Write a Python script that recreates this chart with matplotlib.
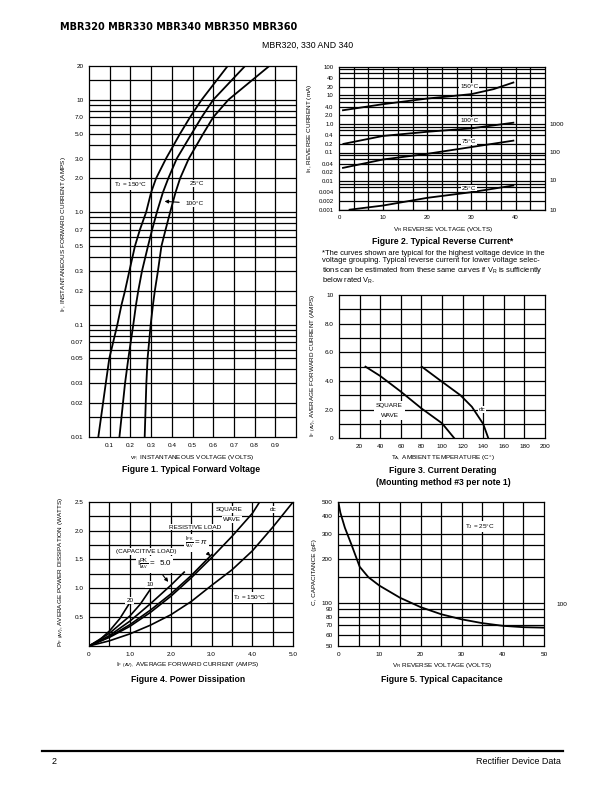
import matplotlib
matplotlib.use("Agg")
import matplotlib.pyplot as plt
from matplotlib.ticker import FixedLocator, FixedFormatter, NullFormatter

plt.rcParams['font.family'] = ['Liberation Sans', 'DejaVu Sans']
plt.rcParams['mathtext.fontset'] = 'custom'
plt.rcParams['mathtext.rm'] = 'Liberation Sans'
plt.rcParams['mathtext.it'] = 'Liberation Sans:italic'
plt.rcParams['mathtext.bf'] = 'Liberation Sans:bold'

W, H = 612.0, 792.0

# ---- Figure 1: typical forward voltage
if_amps = [0.01, 0.03, 0.05, 0.1, 0.15, 0.2, 0.3, 0.5, 0.7, 1.0, 1.5, 2.0, 3.0, 5.0, 7.0, 10, 20]
vf_150c = [0.045, 0.081, 0.098, 0.137, 0.157, 0.174, 0.195, 0.222, 0.246, 0.276, 0.300, 0.324, 0.372, 0.440, 0.488, 0.544, 0.670]
vf_100c = [0.147, 0.174, 0.190, 0.214, 0.227, 0.238, 0.256, 0.285, 0.305, 0.328, 0.357, 0.383, 0.424, 0.496, 0.544, 0.600, 0.754]
vf_25c = [0.269, 0.277, 0.283, 0.298, 0.309, 0.318, 0.333, 0.350, 0.370, 0.392, 0.418, 0.440, 0.482, 0.552, 0.600, 0.673, 0.871]
f1_grid_x = [0.1, 0.2, 0.3, 0.4, 0.5, 0.6, 0.7, 0.8, 0.9]
f1_grid_y = [0.015, 0.02, 0.03, 0.04, 0.05, 0.06, 0.07, 0.08, 0.09, 0.1, 0.15, 0.2, 0.3, 0.4, 0.5,
             0.6, 0.7, 0.8, 0.9, 1.0, 1.5, 2, 3, 4, 5, 6, 7, 8, 9, 10, 15]
f1_xticks = [0.1, 0.2, 0.3, 0.4, 0.5, 0.6, 0.7, 0.8, 0.9]
f1_xlabels = ['0.1', '0.2', '0.3', '0.4', '0.5', '0.6', '0.7', '0.8', '0.9']
f1_yticks = [0.01, 0.02, 0.03, 0.05, 0.07, 0.1, 0.2, 0.3, 0.5, 0.7, 1, 2, 3, 5, 7, 10, 20]
f1_ylabels = ['0.01', '0.02', '0.03', '0.05', '0.07', '0.1', '0.2', '0.3', '0.5', '0.7',
              '1.0', '2.0', '3.0', '5.0', '7.0', '10', '20']

# ---- Figure 2: typical reverse current
vr_150c = [0.9, 10, 20, 30, 35, 39.5]
ir_150c = [3.0, 4.9, 7.7, 11, 16.4, 28]
vr_100c = [1.0, 10, 20, 30, 39.5]
ir_100c = [0.2, 0.38, 0.53, 0.70, 1.1]
vr_75c = [0.9, 10, 20, 30, 39.5]
ir_75c = [0.029, 0.057, 0.09, 0.155, 0.26]
vr_25c = [2.4, 10, 20, 30, 39.5]
ir_25c = [0.001, 0.0014, 0.0026, 0.0041, 0.007]
f2_grid_x = [10 / 3 * k for k in range(1, 14)]
f2_grid_y = [d * m for d in [0.001, 0.01, 0.1, 1, 10] for m in [1, 2, 4, 6, 8]]
f2_xticks = [0, 10, 20, 30, 40]
f2_xlabels = ['0', '10', '20', '30', '40']
f2_yticks = [0.001, 0.002, 0.004, 0.01, 0.02, 0.04, 0.1, 0.2, 0.4, 1, 2, 4, 10, 20, 40, 100]
f2_ylabels = ['0.001', '0.002', '0.004', '0.01', '0.02', '0.04', '0.1', '0.2', '0.4',
              '1.0', '2.0', '4.0', '10', '20', '40', '100']

# ---- Figure 3: current derating
ta_square = [25.7, 40, 60, 80, 100, 112]
if_square = [5.0, 4.35, 3.26, 2.09, 1.05, 0]
ta_dc = [80.3, 99, 118, 129, 140, 145.0]
if_dc = [5.0, 4.0, 3.0, 2.2, 1.0, 0]
f3_grid_x = [20, 40, 60, 80, 100, 120, 140, 160, 180]
f3_grid_y = [1, 2, 3, 4, 5, 6, 7, 8, 9]
f3_xticks = [20, 40, 60, 80, 100, 120, 140, 160, 180, 200]
f3_xlabels = ['20', '40', '60', '80', '100', '120', '140', '160', '180', '200']
f3_yticks = [0, 2, 4, 6, 8, 10]
f3_ylabels = ['0', '2.0', '4.0', '6.0', '8.0', '10']

# ---- Figure 4: power dissipation
iav_20 = [0, 0.25, 0.5, 0.75, 0.99]
pf_20 = [0, 0.1, 0.26, 0.47, 0.74]
iav_10 = [0, 0.5, 1.0, 1.25, 1.49]
pf_10 = [0, 0.22, 0.52, 0.72, 0.97]
iav_5 = [0, 0.5, 1.0, 1.5, 2.0, 2.33]
pf_5 = [0, 0.18, 0.43, 0.73, 1.05, 1.28]
iav_pi = [0, 0.5, 1.0, 1.5, 2.0, 2.5, 3.0]
pf_pi = [0, 0.16, 0.37, 0.62, 0.90, 1.22, 1.58]
iav_sq = [0, 0.5, 1.0, 1.5, 2.0, 2.5, 3.0, 3.5, 4.0, 4.18]
pf_sq = [0, 0.15, 0.34, 0.58, 0.86, 1.18, 1.53, 1.90, 2.30, 2.50]
iav_dc = [0, 0.5, 1.0, 1.5, 2.0, 2.5, 3.0, 3.5, 4.0, 4.5, 5.0]
pf_dc = [0, 0.09, 0.21, 0.36, 0.54, 0.77, 1.05, 1.32, 1.65, 2.06, 2.50]
f4_grid_x = [0.5, 1.0, 1.5, 2.0, 2.5, 3.0, 3.5, 4.0, 4.5]
f4_grid_y = [0.25, 0.5, 0.75, 1.0, 1.25, 1.5, 1.75, 2.0, 2.25]
f4_xticks = [0, 1, 2, 3, 4, 5]
f4_xlabels = ['0', '1.0', '2.0', '3.0', '4.0', '5.0']
f4_yticks = [0.5, 1.0, 1.5, 2.0, 2.5]
f4_ylabels = ['0.5', '1.0', '1.5', '2.0', '2.5']

# ---- Figure 5: typical capacitance
vr_cap = [0, 0.5, 1.6, 3.2, 5.2, 7.3, 10, 15, 20, 25, 30, 35, 40, 45, 50]
c_pf = [500, 420, 330, 252, 177, 150, 131, 108, 93, 83, 76.5, 72, 69, 67.5, 67]
f5_grid_x = [5, 10, 15, 20, 25, 30, 35, 40, 45]
f5_grid_y = [60, 70, 80, 90, 100, 150, 200, 250, 300, 400]
f5_xticks = [0, 10, 20, 30, 40, 50]
f5_xlabels = ['0', '10', '20', '30', '40', '50']
f5_yticks = [50, 60, 70, 80, 90, 100, 200, 300, 400, 500]
f5_ylabels = ['50', '60', '70', '80', '90', '100', '200', '300', '400', '500']

fig = plt.figure(figsize=(6.12, 7.92), dpi=100)


def px_axes(l, t, r, b):
    return fig.add_axes([l / W, 1 - b / H, (r - l) / W, (b - t) / H])


def ftext(x, y, s, **kw):
    kw.setdefault('fontsize', 4.6)
    kw.setdefault('ha', 'center')
    kw.setdefault('va', 'center')
    fig.text(x / W, 1 - y / H, s, **kw)


def style(ax, gx, gy, xt, xl, yt, yl):
    ax.xaxis.set_major_locator(FixedLocator(xt))
    ax.xaxis.set_major_formatter(FixedFormatter(xl))
    ax.yaxis.set_major_locator(FixedLocator(yt))
    ax.yaxis.set_major_formatter(FixedFormatter(yl))
    ax.xaxis.set_minor_locator(FixedLocator([]))
    ax.yaxis.set_minor_locator(FixedLocator([]))
    ax.yaxis.set_minor_formatter(NullFormatter())
    ax.tick_params(which='both', length=0, labelsize=4.6, pad=4)
    for v in gx:
        ax.axvline(v, color='k', lw=0.9, zorder=1)
    for v in gy:
        ax.axhline(v, color='k', lw=0.9, zorder=1)
    for s in ax.spines.values():
        s.set_linewidth(0.9)


box = dict(facecolor='white', edgecolor='none', pad=0.6)

# Figure 1
ax1 = px_axes(89, 66, 296, 437)
ax1.set_yscale('log')
ax1.set_xlim(0, 1.0)
ax1.set_ylim(0.01, 20)
style(ax1, f1_grid_x, f1_grid_y, f1_xticks, f1_xlabels, f1_yticks, f1_ylabels)
for v in [vf_150c, vf_100c, vf_25c]:
    ax1.plot(v, if_amps, color='k', lw=1.3, zorder=3)
ax1.text(0.20, 1.75, r'T$_\mathrm{J}$ = 150°C', fontsize=4.6, ha='center', va='center', bbox=box, zorder=4)
ax1.text(0.52, 1.8, '25°C', fontsize=4.6, ha='center', va='center', bbox=box, zorder=4)
ax1.annotate('100°C', xy=(0.365, 1.25), xytext=(0.51, 1.2), fontsize=4.6, ha='center', va='center',
             bbox=box, zorder=4,
             arrowprops=dict(arrowstyle='-|>', color='k', lw=0.8, mutation_scale=5, shrinkA=4, shrinkB=0))
ftext(192, 458, r'v$_\mathrm{F,}$ INSTANTANEOUS VOLTAGE (VOLTS)')
ftext(63, 234, r'I$_\mathrm{F}$, INSTANTANEOUS FORWARD CURRENT (AMPS)', rotation=90)
ftext(191, 470, 'Figure 1. Typical Forward Voltage', fontsize=6.2, weight='bold')

# Figure 2
ax2 = px_axes(339, 66.7, 545, 209.7)
ax2.set_yscale('log')
ax2.set_xlim(0, 140 / 3)
ax2.set_ylim(0.001, 100)
style(ax2, f2_grid_x, f2_grid_y, f2_xticks, f2_xlabels, f2_yticks, f2_ylabels)
ax2.tick_params(labelsize=4.3)
for v, i in [(vr_150c, ir_150c), (vr_100c, ir_100c), (vr_75c, ir_75c), (vr_25c, ir_25c)]:
    ax2.plot(v, i, color='k', lw=1.3, zorder=3)
for lab, yv in [('150°C', 20), ('100°C', 1.35), ('75°C', 0.24), ('25°C', 0.0057)]:
    ax2.text(29.5, yv, lab, fontsize=4.6, ha='center', va='center', bbox=box, zorder=4)
for lab, yy in [('1000', 124), ('100', 152), ('10', 181), ('10', 210)]:
    ftext(549, yy, lab, ha='left')
ftext(309, 128, r'I$_\mathrm{R}$, REVERSE CURRENT (mA)', rotation=90)
ftext(443, 230, r'V$_\mathrm{R}$ REVERSE VOLTAGE (VOLTS)')
ftext(443, 241, 'Figure 2. Typical Reverse Current*', fontsize=6.2, weight='bold')
note = ('*The curves shown are typical for the highest voltage device in the\n'
        'voltage grouping. Typical reverse current for lower voltage selec-\n'
        'tions can be estimated from these same curves if V$_\\mathrm{R}$ is sufficiently\n'
        'below rated V$_\\mathrm{R}$.')
ftext(322, 250, note, ha='left', va='top', fontsize=5.4, linespacing=1.05)

# Figure 3
ax3 = px_axes(339, 295, 545, 438.3)
ax3.set_xlim(0, 200)
ax3.set_ylim(0, 10)
style(ax3, f3_grid_x, f3_grid_y, f3_xticks, f3_xlabels, f3_yticks, f3_ylabels)
ax3.plot(ta_square, if_square, color='k', lw=1.3, zorder=3)
ax3.plot(ta_dc, if_dc, color='k', lw=1.3, zorder=3)
ax3.text(49, 1.95, 'SQUARE\n\nWAVE', fontsize=4.6, ha='center', va='center', linespacing=1.0,
         bbox=dict(facecolor='white', edgecolor='none', pad=1.2), zorder=4)
ax3.text(139, 2.0, 'dc', fontsize=4.6, ha='center', va='center', bbox=box, zorder=4)
ftext(314, 365, r'I$_\mathrm{F}$ $_\mathrm{(AV)}$, AVERAGE FORWARD CURRENT (AMPS)', rotation=90)
ftext(443, 458, r'T$_\mathrm{A,}$ AMBIENT TEMPERATURE (C°)')
ftext(443, 470.5, 'Figure 3. Current Derating', fontsize=6.2, weight='bold')
ftext(443, 482.5, '(Mounting method #3 per note 1)', fontsize=6.2, weight='bold')

# Figure 4
ax4 = px_axes(89, 501.7, 293.3, 646)
ax4.set_xlim(0, 5)
ax4.set_ylim(0, 2.5)
style(ax4, f4_grid_x, f4_grid_y, f4_xticks, f4_xlabels, f4_yticks, f4_ylabels)
for x, y in [(iav_20, pf_20), (iav_10, pf_10), (iav_5, pf_5), (iav_pi, pf_pi), (iav_sq, pf_sq), (iav_dc, pf_dc)]:
    ax4.plot(x, y, color='k', lw=1.2, zorder=3)
ax4.text(3.42, 2.37, 'SQUARE', fontsize=4.6, ha='center', va='center', bbox=box, zorder=4)
ax4.text(3.50, 2.19, 'WAVE', fontsize=4.6, ha='center', va='center', bbox=box, zorder=4)
ax4.text(4.51, 2.37, 'dc', fontsize=4.6, ha='center', va='center', bbox=box, zorder=4)
ax4.text(2.59, 2.06, 'RESISTIVE LOAD', fontsize=4.6, ha='center', va='center', bbox=box, zorder=4)
ax4.annotate(r'$\frac{\mathrm{I_{PK}}}{\mathrm{I_{AV}}} = \pi$', xy=(2.97, 1.56), xytext=(2.63, 1.79),
             fontsize=5.8, ha='center', va='center', bbox=box, zorder=4,
             arrowprops=dict(arrowstyle='-|>', color='k', lw=0.8, mutation_scale=5, shrinkA=2, shrinkB=0))
ax4.text(1.41, 1.64, '(CAPACITIVE LOAD)', fontsize=4.6, ha='center', va='center', bbox=box, zorder=4)
ax4.annotate(r'I$\frac{\mathrm{PK}}{\mathrm{I_{AV}}}$ =  5.0', xy=(1.94, 1.11), xytext=(1.6, 1.41),
             fontsize=5.8, ha='center', va='center', bbox=box, zorder=4,
             arrowprops=dict(arrowstyle='-|>', color='k', lw=0.8, mutation_scale=5, shrinkA=2, shrinkB=0))
ax4.text(1.49, 1.07, '10', fontsize=4.6, ha='center', va='center', bbox=box, zorder=4)
ax4.text(1.0, 0.79, '20', fontsize=4.6, ha='center', va='center', bbox=box, zorder=4)
ax4.text(3.94, 0.84, r'T$_\mathrm{J}$ = 150°C', fontsize=4.6, ha='center', va='center', bbox=box, zorder=4)
ftext(62, 572, r'P$_\mathrm{F}$ $_\mathrm{(AV)}$, AVERAGE POWER DISSIPATION (WATTS)', rotation=90)
ftext(188, 666, r'I$_\mathrm{F}$ $_\mathrm{(AV),}$ AVERAGE FORWARD CURRENT (AMPS)')
ftext(188, 679, 'Figure 4. Power Dissipation', fontsize=6.2, weight='bold')

# Figure 5
ax5 = px_axes(338.3, 501.7, 544, 646)
ax5.set_yscale('log')
ax5.set_xlim(0, 50)
ax5.set_ylim(50, 500)
style(ax5, f5_grid_x, f5_grid_y, f5_xticks, f5_xlabels, f5_yticks, f5_ylabels)
ax5.plot(vr_cap, c_pf, color='k', lw=1.3, zorder=3)
ax5.text(34.5, 337, r'T$_\mathrm{J}$ = 25°C', fontsize=4.6, ha='center', va='center', bbox=box, zorder=4)
ftext(556, 604, '100', ha='left')
ftext(315, 572, 'C, CAPACITANCE (pF)', rotation=90)
ftext(442, 666, r'V$_\mathrm{R}$ REVERSE VOLTAGE (VOLTS)')
ftext(442, 679, 'Figure 5. Typical Capacitance', fontsize=6.2, weight='bold')

# page header and footer
ftext(60, 27, 'MBR320 MBR330 MBR340 MBR350 MBR360', ha='left', fontsize=7.0,
      family=['DejaVu Sans'], weight='heavy')
ftext(308, 45, 'MBR320, 330 AND 340', fontsize=6.3)
fig.add_artist(plt.Line2D([42 / W, 563 / W], [1 - 751 / H, 1 - 751 / H], color='k', lw=1.6))
ftext(52, 762, '2', ha='left', fontsize=6.5)
ftext(561, 762, 'Rectifier Device Data', ha='right', fontsize=6.5)

fig.savefig('out.png', dpi=100)
